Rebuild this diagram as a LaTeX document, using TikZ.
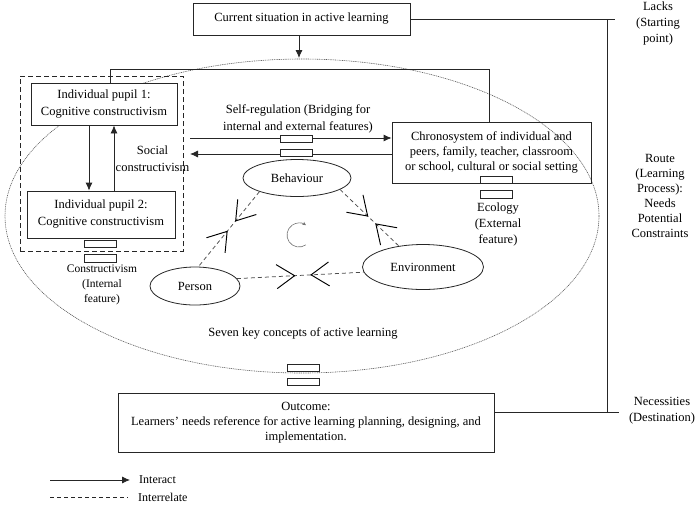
\documentclass[tikz,border=0pt]{standalone}
\usepackage{fontspec}
\setmainfont{Liberation Serif}
\usetikzlibrary{arrows.meta,decorations.markings,shapes.geometric}
\begin{document}
\begin{tikzpicture}[x=1pt,y=-1pt,
  ln/.style={draw=black!85, line width=0.8pt},
  txt/.style={font=\fontsize{12.5}{15}\selectfont, align=center, inner sep=0pt},
  box/.style={ln, rectangle, font=\fontsize{12.5}{15}\selectfont, align=center, inner sep=0pt},
  tag/.style={draw=black!85, line width=0.6pt, fill=white, rectangle, minimum width=32pt, minimum height=7.5pt, inner sep=0pt},
  ell/.style={ln, ellipse, inner sep=0pt, font=\fontsize{12.5}{15}\selectfont},
  arr/.style={ln, -{Latex[length=8pt,width=7pt]}},
  rel/.style={draw=black!70, line width=0.75pt, dash pattern=on 4pt off 3pt},
  chev/.style={draw=black, line width=0.95pt, solid},
  fwd/.style={postaction={decorate, decoration={markings,
     mark=at position #1 with {\draw[chev] (-18pt,12pt) -- (0pt,0pt) -- (-18pt,-12pt);}}}},
  bwd/.style={postaction={decorate, decoration={markings,
     mark=at position #1 with {\draw[chev] (18pt,12pt) -- (0pt,0pt) -- (18pt,-12pt);}}}},
]
\useasboundingbox (0,0) rectangle (700,507);

% big dotted field
\node[ellipse, draw=black!65, line width=0.6pt, dash pattern=on 1pt off 0.8pt,
      minimum width=594pt, minimum height=314pt, inner sep=0pt] (field) at (302,216) {};

% top box
\node[box, minimum width=217pt, minimum height=32pt] (top) at (301.5,19) {Current situation in active learning};
\coordinate (ftop) at (299,58);
\draw[arr] (top.south -| ftop) -- (ftop);

% dashed group
\node[draw=black!85, line width=0.75pt, dash pattern=on 5pt off 3pt, rectangle,
      minimum width=163pt, minimum height=175pt, inner sep=0pt] (grp) at (101.5,163.5) {};

% pupils
\node[box, font=\fontsize{12.5}{17}\selectfont, minimum width=146pt, minimum height=42pt, fill=white] (p1) at (104,104) {Individual pupil 1:\\Cognitive constructivism};
\node[box, font=\fontsize{12.5}{17}\selectfont, minimum width=148pt, minimum height=47pt] (p2) at (101,214.5) {Individual pupil 2:\\Cognitive constructivism};
\coordinate (xd) at (89,0);
\coordinate (xu) at (114,0);
\draw[arr] (p1.south -| xd) -- (p2.north -| xd);
\draw[arr] (p2.north -| xu) -- (p1.south -| xu);
\node[txt, font=\fontsize{12.5}{17}\selectfont] (soc) at (152.5,158.5) {Social\\constructivism};

% chronosystem
\node[box, minimum width=199pt, minimum height=61pt] (chrono) at (491.5,152.5) {Chronosystem of individual and\\peers, family, teacher, classroom\\or school, cultural or social setting};

% link pupil1 to chrono
\coordinate (xl) at (110,0);
\coordinate (corner) at (489,69);
\draw[ln] (p1.north -| xl) |- (corner) -- (chrono.north -| corner);

% self-regulation arrows
\coordinate (sr1) at (190,138);
\coordinate (sr2) at (190,154);
\draw[arr] (sr1) -- (sr1 -| chrono.west);
\draw[arr] (sr2 -| chrono.west) -- (sr2);
\node[tag] (t1) at (296,139) {};
\node[tag] (t2) at (296,153) {};
\node[txt, font=\fontsize{12.5}{17}\selectfont] (self) at (298,118.5) {Self-regulation (Bridging for\\internal and external features)};

% tags and labels under pupil2 and chrono
\node[tag] (t3) at (100,244) {};
\node[tag] (t4) at (100,258.5) {};
\node[txt, font=\fontsize{11.5}{15}\selectfont] (cons) at (102,285) {Constructivism\\(Internal\\feature)};
\node[tag] (t5) at (496,180) {};
\node[tag] (t6) at (496,194.5) {};
\node[txt, font=\fontsize{12.5}{16}\selectfont] (eco) at (498,224) {Ecology\\(External\\feature)};

% triad
\node[ell, minimum width=108pt, minimum height=37pt] (beh) at (297,178) {Behaviour};
\node[ell, minimum width=90pt, minimum height=38pt] (per) at (195,286) {Person};
\node[ell, minimum width=121pt, minimum height=45pt] (env) at (423,267) {Environment};

\draw[rel, fwd=0.39, bwd=0.53] (beh.200) -- (per.80);
\draw[rel, fwd=0.47, bwd=0.61] (beh.-15) -- (env.139);
\draw[rel, fwd=0.455, bwd=0.585] (per.10) -- (env.185);

% cycle sign
\coordinate (cyc) at (299,235);
\draw[black!55, line width=0.6pt, -{Stealth[length=3.5pt,width=3.5pt]}]
  ([shift={(-55:12pt)}]cyc) arc[start angle=-55, end angle=-305, radius=12pt];

\node[txt] (seven) at (303,333) {Seven key concepts of active learning};

% outcome
\node[tag] (t7) at (303,368) {};
\node[tag] (t8) at (303,382) {};
\node[box, minimum width=376pt, minimum height=59pt] (out) at (306,422.5) {Outcome:\\Learners’ needs reference for active learning planning, designing, and\\implementation.};

% right bracket
\coordinate (rb1) at (615,19);
\coordinate (v1) at (607,19);
\coordinate (v2) at (607,412);
\coordinate (rb2) at (619,412);
\draw[ln] (top.east) -- (rb1);
\draw[ln] (v1) -- (v2);
\draw[ln] (out.east |- rb2) -- (rb2);

\node[txt, font=\fontsize{12.5}{16}\selectfont] (lacks) at (658,23) {Lacks\\(Starting\\point)};
\node[txt] (route) at (660,195.5) {Route\\(Learning\\Process):\\Needs\\Potential\\Constraints};
\node[txt, font=\fontsize{12.5}{16}\selectfont] (nec) at (662,411) {Necessities\\(Destination)};

% legend
\coordinate (la) at (50,480);
\coordinate (lb) at (130,480);
\coordinate (lc) at (50,497);
\coordinate (ld) at (128,497);
\draw[arr] (la) -- (lb);
\draw[draw=black!85, line width=0.7pt, dash pattern=on 4pt off 3pt] (lc) -- (ld);
\node[txt, anchor=west, font=\fontsize{12}{14}\selectfont] (lint) at (139,480) {Interact};
\node[txt, anchor=west, font=\fontsize{12}{14}\selectfont] (lrel) at (138,497) {Interrelate};
\end{tikzpicture}
\end{document}
